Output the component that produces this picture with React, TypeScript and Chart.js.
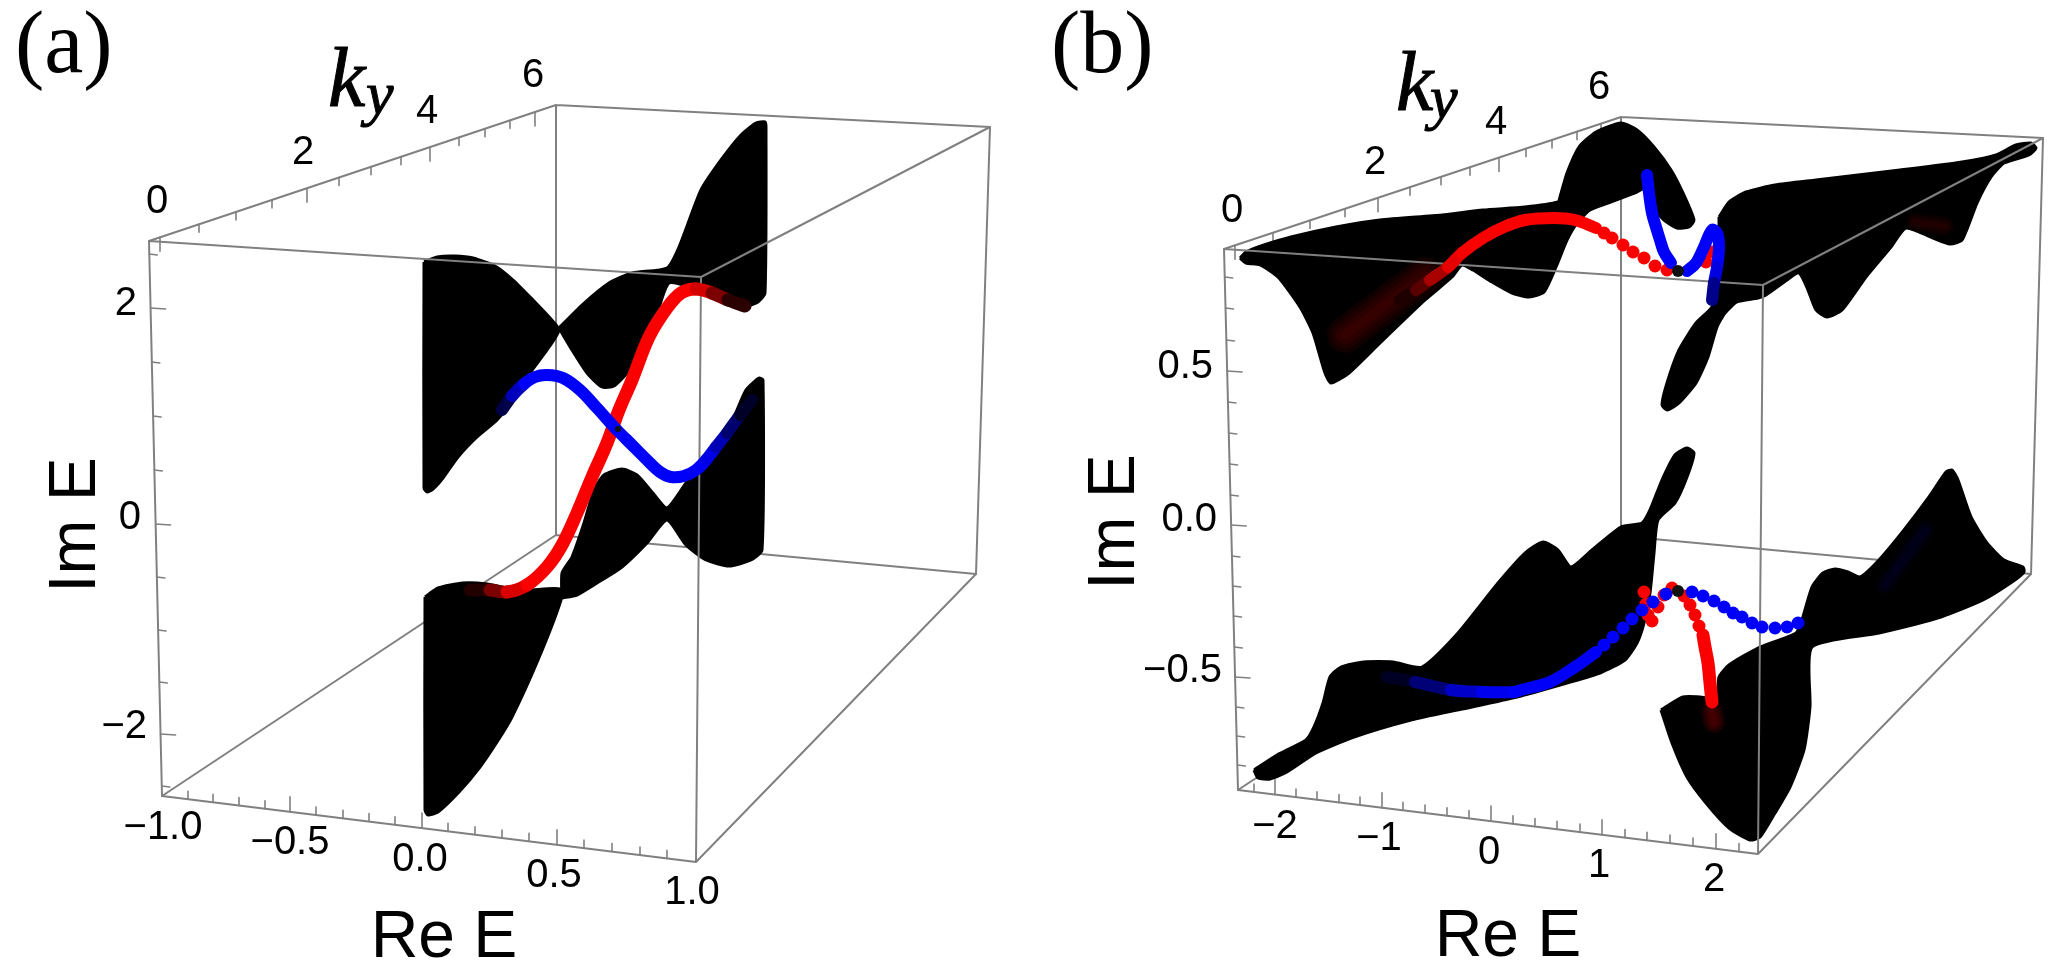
import React, { useEffect, useRef } from "react";
import { Chart, registerables } from "chart.js";

Chart.register(...registerables);

type P = number[];

// ---------- projected box corners ----------
const boxA = { ftl: [149, 241], btl: [556, 105], ftr: [701, 277], btr: [990, 127], fbl: [162, 796], fbr: [696, 862], bbl: [556, 535], bbr: [976, 574] };
const boxB = { ftl: [1224, 249], btl: [1621, 117], ftr: [1763, 285], btr: [2043, 138], fbl: [1238, 790], fbr: [1758, 854], bbl: [1621, 536], bbr: [2031, 574] };

// ---------- tick readings ----------
const kyTicksA = [160, 199, 236, 272, 307, 339, 371, 401, 430, 459, 485, 510, 535];
const kyMajorA = [160, 307, 430, 535];
const imTicksA = [254, 308, 362, 416, 470, 524, 577, 630, 682, 734, 786];
const imMajorA = [308, 524, 734];
const reTicksA = [188, 213, 239, 265, 290, 316, 343, 369, 395, 422, 448, 475, 502, 529, 557, 584, 612, 640, 667];
const reMajorA = [290, 422, 557];
const kyTicksB = [1235, 1273, 1310, 1345, 1378, 1410, 1441, 1470, 1499, 1526, 1552, 1577, 1601];
const kyMajorB = [1235, 1378, 1499, 1601];
const imTicksB = [277, 308, 340, 371, 402, 433, 464, 495, 525, 556, 586, 616, 647, 677, 707, 736, 765];
const imMajorB = [371, 525, 677];
const reTicksB = [1254, 1275, 1296, 1317, 1339, 1360, 1382, 1403, 1425, 1447, 1469, 1491, 1513, 1535, 1557, 1580, 1602, 1625, 1647, 1670, 1693, 1716, 1739];
const reMajorB = [1275, 1382, 1491, 1602, 1716];

// ---------- tick labels ----------
const kyLabels = ["0", "2", "4", "6"];
const imLabelsA = ["2", "0", "\u22122"];
const reLabelsA = ["\u22121.0", "\u22120.5", "0.0", "0.5", "1.0"];
const imLabelsB = ["0.5", "0.0", "\u22120.5"];
const reLabelsB = ["\u22122", "\u22121", "0", "1", "2"];

// ---------- sheets of panel (a) ----------
const sheetA1: P[] = [[424, 262], [437, 257], [455, 256], [473, 258], [495, 266], [513, 280], [533, 300], [550, 318], [559, 330], [547, 350], [530, 373], [513, 400], [497, 420], [477, 437], [458, 457], [443, 478], [433, 489], [427, 492], [424, 488], [424, 262]];
const sheetA2: P[] = [[559, 328], [582, 305], [609, 283], [632, 273], [667, 268], [679, 247], [701, 190], [721, 160], [741, 135], [756, 123], [765, 122], [766, 127], [765, 293], [758, 302], [746, 306], [731, 302], [711, 295], [696, 289], [669, 283], [656, 317], [641, 350], [627, 373], [614, 386], [602, 387], [587, 373], [572, 350], [559, 328]];
const sheetA3: P[] = [[425, 597], [438, 588], [463, 583], [487, 584], [507, 588], [527, 590], [560, 589], [561, 600], [538, 660], [512, 717], [497, 742], [480, 767], [459, 792], [438, 812], [428, 815], [425, 810], [425, 597]];
const sheetA4: P[] = [[562, 598], [562, 573], [572, 557], [584, 523], [594, 490], [604, 475], [622, 469], [637, 475], [652, 492], [667, 508], [686, 483], [706, 457], [731, 423], [746, 390], [759, 378], [763, 380], [762, 550], [751, 560], [729, 566], [706, 560], [686, 545], [667, 520], [647, 543], [622, 567], [597, 583], [577, 595], [562, 598]];

// ---------- sheets of panel (b) ----------
const sheetB1: P[] = [[1240, 258], [1246, 252], [1264, 245], [1291, 237], [1336, 227], [1380, 220], [1442, 215], [1483, 210], [1525, 207], [1558, 202], [1560, 197], [1567, 173], [1579, 147], [1596, 132], [1621, 123], [1637, 130], [1654, 147], [1671, 170], [1683, 193], [1694, 220], [1689, 227], [1677, 228], [1664, 220], [1656, 210], [1646, 188], [1637, 192], [1608, 203], [1590, 210], [1577, 223], [1567, 240], [1556, 267], [1544, 292], [1529, 297], [1512, 293], [1492, 282], [1473, 270], [1462, 265], [1452, 277], [1425, 300], [1380, 343], [1349, 373], [1331, 383], [1325, 373], [1313, 333], [1300, 307], [1278, 277], [1260, 265], [1246, 263], [1240, 258]];
const sheetB2: P[] = [[1719, 217], [1729, 202], [1746, 192], [1775, 185], [1816, 180], [1900, 170], [1962, 162], [1996, 155], [2016, 145], [2031, 143], [2036, 148], [2029, 155], [2004, 163], [1991, 177], [1977, 203], [1962, 240], [1950, 244], [1933, 238], [1906, 228], [1891, 247], [1866, 277], [1842, 310], [1827, 317], [1816, 310], [1808, 290], [1799, 273], [1787, 280], [1766, 295], [1758, 298], [1737, 302], [1725, 313], [1717, 327], [1708, 357], [1696, 383], [1679, 403], [1667, 410], [1662, 405], [1667, 383], [1679, 350], [1696, 323], [1712, 307], [1717, 283], [1719, 250], [1719, 217]];
const sheetB3: P[] = [[1254, 770], [1277, 755], [1306, 740], [1314, 727], [1323, 703], [1330, 677], [1341, 667], [1364, 662], [1393, 662], [1422, 667], [1458, 633], [1498, 583], [1525, 553], [1543, 542], [1558, 550], [1571, 567], [1592, 550], [1621, 527], [1642, 523], [1650, 510], [1662, 480], [1675, 455], [1687, 448], [1694, 453], [1687, 477], [1675, 503], [1658, 520], [1654, 553], [1650, 593], [1644, 623], [1637, 643], [1625, 660], [1600, 673], [1567, 683], [1517, 697], [1462, 709], [1411, 720], [1354, 737], [1316, 753], [1287, 772], [1270, 779], [1258, 778], [1254, 770]];
const sheetB4: P[] = [[1661, 710], [1683, 697], [1700, 697], [1717, 698], [1719, 677], [1729, 665], [1758, 648], [1796, 633], [1802, 620], [1812, 587], [1823, 573], [1835, 569], [1848, 572], [1860, 577], [1879, 560], [1904, 530], [1929, 497], [1946, 472], [1952, 470], [1958, 480], [1971, 517], [1987, 543], [2004, 560], [2023, 567], [2024, 572], [2012, 582], [1983, 600], [1941, 617], [1879, 633], [1812, 647], [1810, 707], [1804, 750], [1790, 787], [1775, 813], [1760, 837], [1750, 840], [1729, 828], [1706, 803], [1687, 777], [1672, 743], [1661, 710]];

// ---------- edge-state curves: panel (a) ----------
const blueA: P[] = [[502, 410], [512, 396], [524, 384], [535, 377], [547, 375], [563, 378], [580, 390], [597, 408], [617, 430], [632, 445], [647, 460], [660, 472], [671, 477], [684, 476], [696, 470], [706, 460], [716, 447], [727, 433], [740, 415], [752, 400]];
const blueAShade = [0.08, 0.5, 1, 1, 1, 1, 1, 1, 1, 1, 1, 1, 1, 1, 1, 1, 0.85, 0.6, 0.28, 0.05];
const redA: P[] = [[470, 590], [490, 590], [507, 592], [527, 585], [547, 567], [562, 545], [577, 513], [592, 477], [607, 443], [619, 410], [632, 380], [649, 337], [667, 308], [681, 293], [696, 289], [712, 293], [728, 300], [745, 306]];
const redAShade = [0.03, 0.25, 0.75, 1, 1, 1, 1, 1, 1, 1, 1, 1, 1, 1, 1, 0.7, 0.3, 0.04];

// ---------- edge-state curves: panel (b) ----------
const redUpperBand: P[] = [[1400, 300], [1416, 290], [1430, 280], [1448, 267], [1462, 253], [1483, 238], [1504, 227], [1525, 220], [1554, 218], [1575, 220], [1596, 228]];
const redUpperShade = [0.05, 0.2, 0.5, 0.85, 1, 1, 1, 1, 1, 1, 1];
const redUpperDots: P[] = [[1604, 233], [1612, 238], [1623, 245], [1633, 252], [1644, 258], [1655, 266], [1667, 270], [1706, 262], [1712, 252]];
const blueUpperBand: P[] = [[1647, 175], [1649, 193], [1652, 213], [1656, 227], [1660, 240], [1664, 252], [1671, 263]];
const blueUpperHook: P[] = [[1687, 271], [1696, 263], [1704, 247], [1712, 230], [1717, 233], [1719, 247], [1717, 267], [1714, 283], [1712, 300]];
const blueUpperHookShade = [1, 1, 1, 1, 1, 1, 1, 0.8, 0.3];
const blueLowerBand: P[] = [[1387, 677], [1415, 682], [1451, 690], [1482, 692], [1514, 692], [1521, 690], [1550, 682], [1575, 667], [1596, 652]];
const blueLowerShade = [0.04, 0.25, 0.7, 0.9, 1, 1, 1, 1, 1];
const blueLowerDots: P[] = [[1604, 645], [1613, 637], [1623, 628], [1632, 619], [1642, 610], [1653, 602], [1666, 594], [1692, 592], [1703, 596], [1714, 601], [1724, 607], [1733, 613], [1742, 617], [1752, 623], [1762, 627], [1775, 628], [1787, 627], [1798, 623]];
const redLowerBand: P[] = [[1712, 702], [1710, 683], [1708, 663], [1705, 647], [1703, 635]];
const redLowerDots: P[] = [[1699, 626], [1695, 615], [1690, 605], [1684, 596], [1672, 588], [1664, 595], [1658, 607], [1652, 621], [1648, 615], [1646, 604], [1644, 592]];
const crossings: P[] = [[1678, 271], [1678, 591]];
const crossingA: P[] = [[618, 429]];

// ---------- faint colour glows on the dark sheets ----------
const redGlowB: P[] = [[1345, 335], [1385, 305], [1425, 275]];
const redGlowB2: P[] = [[1915, 222], [1945, 226]];
const redGlowB3: P[] = [[1712, 712], [1714, 722]];
const blueGlowB: P[] = [[1885, 585], [1925, 530]];

const GRAY = "#808080";

const lineOnSegmentY = (p: P, q: P, x: number) => p[1] + ((x - p[0]) * (q[1] - p[1])) / (q[0] - p[0]);
const lineOnSegmentX = (p: P, q: P, y: number) => p[0] + ((y - p[1]) * (q[0] - p[0])) / (q[1] - p[1]);
const gap = { x: NaN, y: NaN };
const pts = (a: P[]) => a.map(([x, y]) => ({ x, y }));
const segs = (list: P[][]) => list.flatMap((s) => [...pts(s), gap]);

function ticksFor(box: typeof boxA, ky: number[], kyM: number[], im: number[], imM: number[], re: number[], reM: number[]) {
  const out: P[][] = [];
  ky.forEach((x) => {
    const y = lineOnSegmentY(box.ftl, box.btl, x);
    out.push([[x, y], [x, y + (kyM.includes(x) ? 14 : 8)]]);
  });
  im.forEach((y) => {
    const x = lineOnSegmentX(box.ftl, box.fbl, y);
    const l = imM.includes(y) ? 15 : 8;
    out.push([[x, y], [x + l, y + 1]]);
  });
  re.forEach((x) => {
    const y = lineOnSegmentY(box.fbl, box.fbr, x);
    out.push([[x, y], [x, y - (reM.includes(x) ? 15 : 8)]]);
  });
  return out;
}

const backEdges = (b: typeof boxA): P[][] => [[b.ftl, b.btl], [b.btl, b.btr], [b.btl, b.bbl], [b.bbl, b.bbr], [b.bbl, b.fbl], [b.btr, b.bbr]];
const frontEdges = (b: typeof boxA): P[][] => [[b.ftl, b.ftr], [b.ftr, b.btr], [b.ftl, b.fbl], [b.ftr, b.fbr], [b.fbl, b.fbr], [b.fbr, b.bbr]];

const shade = (v: number, kind: "r" | "b") => (kind === "r" ? `rgb(${Math.round(250 * v)},0,0)` : `rgb(0,0,${Math.round(250 * v)})`);

const edgeLines = (list: P[][], width = 2) => ({
  data: segs(list), borderColor: GRAY, borderWidth: width, pointRadius: 0, fill: false, spanGaps: false, borderCapStyle: "round",
});
const sheet = (a: P[]) => ({
  data: pts(a), borderColor: "#000", backgroundColor: "#000", borderWidth: 3, fill: "shape", pointRadius: 0, tension: 0.2, borderJoinStyle: "round",
});
const band = (a: P[], kind: "r" | "b", s?: number[], width = 12) => {
  const col = kind === "r" ? "#fa0000" : "#0000fa";
  return {
    data: pts(a), fill: false, tension: 0.35, borderWidth: width, borderJoinStyle: "round", borderCapStyle: "round",
    borderColor: col,
    segment: s ? { borderColor: (c: any) => shade((s[c.p0DataIndex] + s[c.p1DataIndex]) / 2, kind) } : undefined,
    pointRadius: 0,
  };
};
const dots = (a: P[], color: string, r = 6.5) => ({
  data: pts(a), showLine: false, pointRadius: r, pointBackgroundColor: color, pointBorderWidth: 0, fill: false,
});
const soft = (a: P[], rgb: string, widest: number, alpha: number) =>
  [1, 0.75, 0.5, 0.25].map((f) => ({
    data: pts(a), fill: false, tension: 0.3, pointRadius: 0, borderWidth: widest * f, borderColor: `rgba(${rgb},${alpha})`, borderCapStyle: "round",
  }));

const textPlugin = {
  id: "panelText",
  afterDatasetsDraw(chart: any) {
    const c: CanvasRenderingContext2D = chart.ctx;
    const put = (t: string, x: number, y: number, font: string, align: CanvasTextAlign = "center", base: CanvasTextBaseline = "middle", heavy = 0) => {
      c.font = font; c.textAlign = align; c.textBaseline = base; c.fillStyle = "#000"; c.fillText(t, x, y);
      if (heavy) { c.lineWidth = heavy; c.strokeStyle = "#000"; c.strokeText(t, x, y); }
    };
    const tick = "40px 'Liberation Sans'";
    const axis = "66px 'Liberation Sans'";
    const panel = "88px 'Liberation Serif'";
    c.save();
    put("(a)", 15, 72, panel, "left", "alphabetic");
    put("(b)", 1051, 72, panel, "left", "alphabetic");
    put("k", 328, 106, "italic 84px 'Liberation Serif'", "left", "alphabetic", 1);
    put("y", 366, 114, "italic 62px 'Liberation Serif'", "left", "alphabetic", 1);
    put("k", 1396, 110, "italic 84px 'Liberation Serif'", "left", "alphabetic", 1);
    put("y", 1430, 118, "italic 62px 'Liberation Serif'", "left", "alphabetic", 1);
    [[157, 202], [303, 153], [427, 112], [533, 76]].forEach((p, i) => put(kyLabels[i], p[0], p[1], tick));
    [[1232, 211], [1375, 163], [1496, 123], [1599, 88]].forEach((p, i) => put(kyLabels[i], p[0], p[1], tick));
    [[137, 304], [141, 518], [147, 727]].forEach((p, i) => put(imLabelsA[i], p[0], p[1], tick, "right"));
    [[1213, 367], [1217, 520], [1222, 671]].forEach((p, i) => put(imLabelsB[i], p[0], p[1], tick, "right"));
    [[163, 828], [290, 843], [420, 860], [554, 876], [692, 893]].forEach((p, i) => put(reLabelsA[i], p[0], p[1], tick));
    [[1275, 827], [1379, 839], [1489, 853], [1599, 866], [1714, 880]].forEach((p, i) => put(reLabelsB[i], p[0], p[1], tick));
    put("Re E", 444, 957, axis, "center", "alphabetic");
    put("Re E", 1508, 956, axis, "center", "alphabetic");
    [[95, 525], [1134, 522]].forEach((p) => {
      c.save(); c.translate(p[0], p[1]); c.rotate(-Math.PI / 2);
      put("Im E", 0, 0, axis, "center", "alphabetic"); c.restore();
    });
    c.restore();
  },
};

export default function App() {
  const ref = useRef<HTMLCanvasElement>(null);
  useEffect(() => {
    const layers: any[] = [
      edgeLines([...backEdges(boxA), ...backEdges(boxB)]),
      edgeLines([...ticksFor(boxA, kyTicksA, kyMajorA, imTicksA, imMajorA, reTicksA, reMajorA), ...ticksFor(boxB, kyTicksB, kyMajorB, imTicksB, imMajorB, reTicksB, reMajorB)], 1.6),
      sheet(sheetA1), sheet(sheetA2), sheet(sheetA3), sheet(sheetA4),
      sheet(sheetB1), sheet(sheetB2), sheet(sheetB3), sheet(sheetB4),
      ...soft(redGlowB, "120,0,0", 36, 0.14),
      ...soft(redGlowB2, "100,0,0", 18, 0.1),
      ...soft(redGlowB3, "130,0,0", 22, 0.18),
      ...soft(blueGlowB, "0,0,100", 18, 0.08),
      edgeLines([...frontEdges(boxA), ...frontEdges(boxB)]),
      band(redA, "r", redAShade, 13), band(blueA, "b", blueAShade, 12), dots(crossingA, "#111", 3),
      band(redUpperBand, "r", redUpperShade), dots(redUpperDots, "#fa0000"),
      band(redLowerBand, "r", undefined, 13), dots(redLowerDots, "#fa0000"),
      band(blueUpperBand, "b"), band(blueUpperHook, "b", blueUpperHookShade),
      band(blueLowerBand, "b", blueLowerShade), dots(blueLowerDots, "#0000fa"),
      dots(crossings, "#111", 6),
    ];
    const chart = new Chart(ref.current!, {
      type: "line",
      data: { datasets: layers.map((d, i) => ({ ...d, order: -i })) },
      options: {
        responsive: false, animation: false, devicePixelRatio: 1,
        layout: { padding: 0, autoPadding: false },
        plugins: { legend: { display: false }, tooltip: { enabled: false } },
        events: [],
        scales: {
          x: { type: "linear", min: 0, max: 2053, display: false },
          y: { type: "linear", min: 0, max: 980, reverse: true, display: false },
        },
      } as any,
      plugins: [textPlugin],
    });
    return () => chart.destroy();
  }, []);
  return (
    <div style={{ position: "fixed", left: 0, top: 0, width: 2053, height: 980, background: "#fff" }}>
      <canvas ref={ref} width={2053} height={980} style={{ display: "block" }} />
    </div>
  );
}
